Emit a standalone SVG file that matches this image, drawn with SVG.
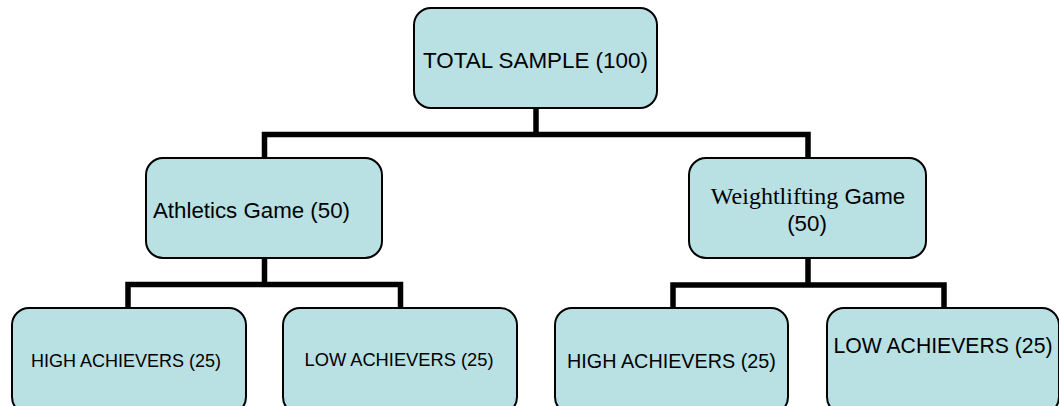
<svg xmlns="http://www.w3.org/2000/svg" width="1059" height="406" viewBox="0 0 1059 406">
<style>
.box{fill:#B9E0E3;stroke:#000;stroke-width:2}
.t{font-family:"Liberation Sans",Arial,sans-serif;fill:#000}
.c{fill:none;stroke:#000;stroke-width:5.5;stroke-linejoin:miter;stroke-linecap:butt}
</style>
<rect width="1059" height="406" fill="#fff"/>
<g id="connectors">
<path class="c" d="M536,108 V134.5 M264.5,158 V134.5 H808 V158"/>
<path class="c" d="M264.5,258 V284.5 M128,308 V284.5 H400.5 V308"/>
<path class="c" d="M808,258 V285 M673,308 V285 H944 V308"/>
</g>
<g id="total">
<rect class="box" x="414" y="8" width="243" height="100" rx="17"/>
<text class="t" x="535.5" y="67.5" font-size="22.4" text-anchor="middle">TOTAL SAMPLE (100)</text>
</g>
<g id="athletics">
<rect class="box" x="146" y="158" width="236" height="100" rx="17"/>
<text class="t" x="153" y="218" font-size="22.3">Athletics Game (50)</text>
</g>
<g id="weightlifting">
<rect class="box" x="689" y="158" width="237" height="100" rx="17"/>
<text class="t" x="808" y="204" font-size="22.3" text-anchor="middle"><tspan font-family="'Liberation Serif','Times New Roman',serif" font-size="24">Weightlifting</tspan> Game</text>
<text class="t" x="807" y="231" font-size="22.3" text-anchor="middle">(50)</text>
</g>
<g id="high1">
<rect class="box" x="12" y="308" width="234" height="106" rx="17"/>
<text class="t" x="126" y="366.5" font-size="18" text-anchor="middle">HIGH ACHIEVERS (25)</text>
</g>
<g id="low1">
<rect class="box" x="283" y="308" width="234" height="106" rx="17"/>
<text class="t" x="399" y="366" font-size="18.3" text-anchor="middle">LOW ACHIEVERS (25)</text>
</g>
<g id="high2">
<rect class="box" x="555" y="308" width="233" height="106" rx="17"/>
<text class="t" x="671.5" y="368" font-size="19.8" text-anchor="middle">HIGH ACHIEVERS (25)</text>
</g>
<g id="low2">
<rect class="box" x="827" y="308" width="232" height="106" rx="17"/>
<text class="t" x="943" y="353" font-size="21.2" text-anchor="middle">LOW ACHIEVERS (25)</text>
</g>
</svg>
